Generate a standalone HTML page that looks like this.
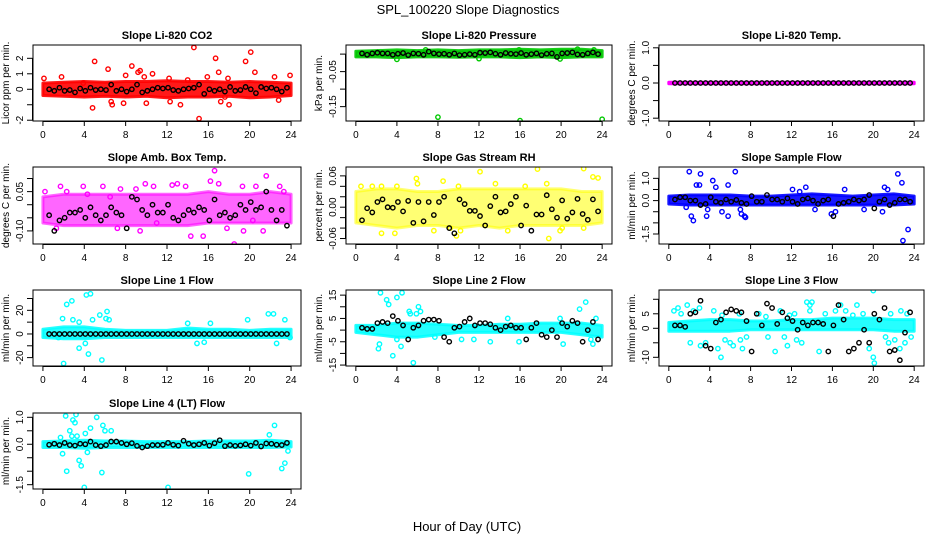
<!DOCTYPE html>
<html><head><meta charset="utf-8">
<style>
html,body{margin:0;padding:0;background:#fff;}
svg{display:block;font-family:"Liberation Sans",Arial,sans-serif;}
</style></head>
<body>
<svg id="chart" width="936" height="540" viewBox="0 0 936 540">
<text x="468" y="14" text-anchor="middle" font-size="13">SPL_100220  Slope Diagnostics</text>
<text x="467" y="531" text-anchor="middle" font-size="13">Hour of Day (UTC)</text>
</svg>
<script>
const hours=[0,2,4,6,8,10,12,14,16,18,20,22,24];
const xTicks=[0,4,8,12,16,20,24];
const blackX=[0.6,1.1,1.6,2.1,2.6,3.1,3.6,4.1,4.6,5.1,5.6,6.1,6.6,7.1,7.6,8.1,8.6,9.1,9.6,10.1,10.6,11.1,11.6,12.1,12.6,13.1,13.6,14.1,14.6,15.1,15.6,16.1,16.6,17.1,17.6,18.1,18.6,19.1,19.6,20.1,20.6,21.1,21.6,22.1,22.6,23.1,23.6];

const p1Lo=[-0.4,-0.45,-0.5,-0.45,-0.5,-0.45,-0.55,-0.5,-0.5,-0.45,-0.55,-0.5,-0.4];
const p1Hi=[0.4,0.45,0.5,0.45,0.5,0.5,0.55,0.5,0.5,0.45,0.5,0.45,0.4];
const p1Out=[[4.8,-1.2],[5.0,1.8],[6.3,1.3],[6.6,-0.8],[6.7,-1.0],[7.8,-0.9],[8.0,0.9],[8.6,1.5],[9.2,1.1],[9.4,1.2],[10.0,-0.9],[10.6,1.0],[1.8,0.8],[0.1,0.7],[12.2,0.7],[12.3,-0.8],[13.3,-1.0],[14.6,2.7],[15.1,-1.9],[15.9,0.8],[16.7,2.0],[17.0,1.1],[17.2,-0.8],[17.6,-0.5],[18.0,-1.0],[17.9,0.7],[19.6,1.8],[20.1,2.4],[20.5,1.1],[22.4,0.8],[22.8,-0.7],[23.9,0.9],[3.9,0.4],[14.0,0.6],[9.8,0.8]];
const p1Mean=[0,-0.1,0.1,-0.1,-0.05,-0.2,0.05,-0.1,0.1,-0.05,0,-0.05,0.3,-0.1,0,-0.15,0,0.3,-0.2,-0.1,0,0.1,0.05,0.1,-0.05,-0.1,0,0.05,0.1,0.3,-0.3,0,-0.1,0,-0.15,0.15,-0.1,-0.05,0.15,0,-0.25,0.15,0.05,0.1,0,-0.15,0.1];

const p2Lo=[-0.008,-0.008,-0.01,-0.008,-0.008,-0.009,-0.008,-0.008,-0.01,-0.008,-0.01,-0.008,-0.008];
const p2Hi=[0.008,0.01,0.012,0.01,0.012,0.01,0.012,0.012,0.014,0.012,0.014,0.014,0.01];
const p2Out=[[4.0,-0.015],[8.0,-0.18],[16.0,-0.19],[24.0,-0.186],[12.0,-0.013],[19.9,-0.014],[6.8,0.012],[15.9,0.012],[21.6,0.014],[23.2,0.012]];
const p2Mean=[0.002,-0.002,0.002,0.004,0.002,0.002,-0.002,0.001,0.003,-0.003,0.002,0.001,-0.002,0.007,0.002,0,0.001,-0.002,0.002,-0.003,-0.002,0,-0.002,0.004,0.003,0.005,0.001,-0.002,0.003,0.001,0,0.003,-0.002,0,0.002,-0.003,0.001,0.002,-0.008,0.002,0.003,0.005,-0.001,-0.002,0.002,0.005,0];

const p3Lo=[-0.02,-0.02,-0.02,-0.02,-0.02,-0.02,-0.02,-0.02,-0.02,-0.02,-0.02,-0.02,-0.02];
const p3Hi=[0.02,0.02,0.02,0.02,0.02,0.02,0.02,0.02,0.02,0.02,0.02,0.02,0.02];
const p3Out=[];
const p3Mean=[0,0,0,0,0,0,0,0,0,0,0,0,0,0,0,0,0,0,0,0,0,0,0,0,0,0,0,0,0,0,0,0,0,0,0,0,0,0,0,0,0,0,0,0,0,0,0];

const p4Lo=[-0.07,-0.08,-0.08,-0.08,-0.08,-0.08,-0.08,-0.08,-0.07,-0.07,-0.07,-0.07,-0.07];
const p4Hi=[0.03,0.04,0.04,0.04,0.04,0.04,0.04,0.04,0.05,0.04,0.04,0.05,0.04];
const p4Out=[[0.2,0.05],[1.7,0.07],[3.9,0.07],[5.8,0.07],[6.5,0.03],[7.2,-0.09],[9.0,0.06],[9.4,-0.1],[10.7,0.07],[12.5,0.075],[13.8,0.07],[14.3,-0.12],[15.1,-0.165],[15.5,-0.12],[16.2,0.09],[16.6,0.13],[17.0,0.08],[17.8,-0.09],[18.5,-0.15],[19.4,-0.1],[20.3,-0.06],[20.6,0.07],[21.3,-0.1],[21.6,0.11],[22.9,0.07],[13.0,0.08],[1.3,-0.09],[2.3,0.05],[4.3,0.04],[7.5,0.06],[11.0,-0.07],[9.9,0.08],[19.3,0.07],[23.3,0.05]];
const p4Mean=[-0.04,-0.1,-0.06,-0.05,-0.03,-0.03,-0.02,-0.05,-0.01,-0.04,-0.06,-0.04,-0.01,-0.03,-0.04,-0.09,0.03,0.02,-0.02,-0.04,0,-0.03,-0.03,0,-0.05,-0.06,-0.04,-0.02,-0.03,-0.01,-0.02,-0.06,0.02,-0.04,-0.03,-0.05,-0.04,0,-0.02,0.01,-0.02,-0.01,0.05,-0.02,-0.06,-0.02,-0.08];

const p5Lo=[-0.03,-0.035,-0.04,-0.035,-0.035,-0.04,-0.035,-0.04,-0.035,-0.035,-0.035,-0.035,-0.03];
const p5Hi=[0.03,0.035,0.035,0.03,0.03,0.035,0.035,0.035,0.035,0.035,0.035,0.03,0.03];
const p5Out=[[0.5,0.04],[2.5,0.04],[4.0,0.04],[5.9,0.055],[6.0,0.045],[8.5,0.05],[12.1,0.068],[13.6,0.045],[17.7,0.073],[18.6,0.045],[22.2,0.074],[23.1,0.058],[23.6,0.056],[2.5,-0.05],[3.8,-0.05],[9.8,-0.055],[10.2,-0.045],[12.6,-0.035],[14.8,-0.045],[18.8,-0.06],[19.9,-0.045],[20.1,-0.04],[22.2,-0.04],[7.6,-0.045],[16.5,0.04],[1.6,0.04],[9.2,-0.04],[10.0,0.04]];
const p5Mean=[-0.025,-0.002,-0.01,0.01,0.015,0,-0.001,0.01,-0.008,0.012,-0.03,0.01,-0.027,0.01,-0.015,0.01,0.02,-0.04,-0.05,0.015,0.006,-0.007,-0.007,-0.017,-0.035,0.002,0.02,-0.01,-0.008,0.006,0.02,-0.035,0.003,-0.045,-0.014,-0.014,0.023,-0.004,-0.02,0.013,-0.022,-0.01,0.016,-0.013,-0.024,0.015,-0.008];

const p6Lo=[-0.15,-0.2,-0.2,-0.2,-0.2,-0.2,-0.2,-0.2,-0.2,-0.2,-0.2,-0.2,-0.15];
const p6Hi=[0.2,0.25,0.25,0.25,0.2,0.2,0.25,0.3,0.25,0.2,0.25,0.3,0.2];
const p6Out=[[2.0,1.3],[3.1,1.2],[6.5,1.3],[4.3,0.9],[3.0,0.7],[2.7,0.7],[5.8,0.7],[4.6,0.6],[2.2,-0.7],[2.4,-0.9],[3.7,-0.7],[3.8,-0.4],[5.2,-0.5],[5.8,-0.7],[7.1,-0.6],[7.4,-0.7],[7.5,-0.75],[7.0,-0.4],[15.9,-0.6],[16.3,-0.5],[14.3,-0.4],[13.4,0.6],[12.1,0.5],[17.2,0.5],[20.9,-0.5],[21.1,0.6],[21.4,0.5],[22.4,1.2],[22.8,0.8],[23.4,-1.3],[22.9,-1.8],[19.1,-0.4],[12.8,0.4],[1.7,-0.3]];
const p6Mean=[0.05,0.15,0.15,0,0,-0.2,-0.15,0.15,-0.05,-0.1,0.05,-0.05,0.03,-0.1,-0.15,0.2,-0.05,-0.05,0.25,0.05,0.05,-0.05,0.1,-0.05,-0.15,0.05,0.1,0,-0.15,0,0.05,-0.7,-0.15,-0.1,-0.05,0.05,0,0.05,0.25,-0.35,-0.05,0.05,-0.2,-0.1,0.05,0.05,-0.05];

const p7Lo=[-3,-4,-4,-3,-3,-3,-3,-3,-3,-3,-3,-3,-3];
const p7Hi=[4,6,6,4,3,3,3,5,4,4,3,4,4];
const p7Out=[[2.0,-25],[2.3,25],[2.8,28],[4.2,33],[4.6,34],[3.5,-12],[4.1,-8],[4.4,-17],[5.7,-22],[6.2,19],[6.1,13],[5.5,16],[4.8,12],[3.5,10],[2.9,12],[1.9,13],[1.5,-3],[6.4,12],[14.9,-8],[15.6,-7],[19.8,12],[21.8,17],[22.3,17],[22.6,-8],[23.4,12],[23.9,-3],[16.2,9],[14,9]];
const p7Mean=[0,0,0,0,0,0,0,0,0,0,0,0,0,0,0,0,0,0,0,0,0,0,0,0,0,0,0,0,0,0,0,0,0,0,0,0,0,0,0,0,0,0,0,0,0,0,0];

const p8Lo=[-1,-2,-3,-3,-2,-1,-1,-1,-1,-1,-1,-2,-3];
const p8Hi=[2,2,3,3,2.5,2,2,2.5,2.5,3,3,3,2];
const p8Out=[[2.4,16],[3.0,13],[4.0,14],[4.5,16],[3.6,-11],[2.2,-8],[2.3,-6],[5.6,-14],[5.2,8],[5.3,7],[5.9,7],[6.3,8],[6.1,10],[7.7,-3],[4.4,-7],[4.0,-4],[14.8,5],[15.9,-5],[20.2,-6],[19.9,5],[21.8,9],[22.4,12],[23.1,-6],[23.4,5],[22.9,-4],[3.2,11],[10.3,-4],[11.5,-4],[13.1,-5]];
const p8Mean=[1,0.5,0.5,3,3.5,3,6,4,2,-4,1,2,4,4.5,4.5,4,-3,-5,1,1.5,3.5,5,2,3,3,2.5,1,0,1.5,2,1,1,-4,1,3,-2,-3,0,-3,3,1.5,4,3,-5,0,3.5,-4];

const p9Lo=[-1,-1,-1,-1,-0.5,-0.5,-0.5,-0.5,-0.5,-0.5,-0.5,-1,-1];
const p9Hi=[2,2.5,3,3,2.5,2.5,3,3,3.5,3.5,3.5,3,3];
const p9Out=[[0.5,6],[0.9,7],[1.8,8],[2.1,-5],[3.1,-6],[3.6,-5],[4.8,-7],[5.1,-10],[5.5,-4],[6.0,-5],[6.3,-6],[7.0,-4],[7.2,-7],[9.7,-3],[10.4,-8],[11.3,-3],[11.6,-6],[12.5,-4],[13.0,-5],[13.5,9],[13.8,8],[14.0,9],[14.7,-8],[16.8,8],[18.4,8],[19.6,-7],[20.0,-10],[20.1,-12],[20.0,13],[21.2,-3],[21.5,-5],[22.1,-4],[22.6,-7],[23.1,-5],[23.7,-3],[22.7,6],[13.8,6],[7.6,-3],[3,7],[1.2,5],[2.4,6],[4.4,6],[6.9,5],[8.8,5],[10.9,6],[12.3,5],[15.3,5],[16.3,6],[17.3,6],[19.0,5],[21.7,5],[23.3,5],[5.2,4.5],[9.5,4],[18.0,4.5],[11.8,4.5]];
const p9Mean=[1,1,0.5,5,5.5,9.5,-6,-7,2,3,5.5,6.5,6,5.5,2.5,-8,5,1,8.5,7,1.5,5.5,3.5,2.5,-0.5,2,1,2,2,1.5,-8,1,8,3,-8,-7,-5,-0.5,-5,5,3,7,-8,-7.5,-11,-1.5,5.5];

const p10Lo=[-0.12,-0.12,-0.15,-0.12,-0.12,-0.12,-0.12,-0.12,-0.12,-0.12,-0.12,-0.12,-0.1];
const p10Hi=[0.1,0.12,0.15,0.12,0.12,0.1,0.1,0.1,0.12,0.12,0.12,0.15,0.1];
const p10Out=[[2.2,1.05],[3.2,1.1],[5.2,1.0],[2.9,0.9],[3.1,0.8],[2.6,0.5],[2.8,0.3],[3.3,0.3],[4.6,0.6],[5.8,0.7],[6.0,0.5],[6.6,0.5],[1.7,0.25],[1.9,-0.35],[2.3,-1.0],[3.5,-0.6],[3.7,-0.8],[4.0,-1.6],[5.7,-1.05],[4.1,0.4],[4.3,-0.3],[12.1,-1.6],[19.9,-1.1],[22.4,0.7],[23.1,-0.9],[23.4,-0.7],[23.7,-0.25],[21.9,0.35]];
const p10Mean=[-0.02,0.02,-0.03,0.05,-0.03,-0.05,0.02,0,0.1,-0.03,-0.07,-0.03,0.1,0.1,0.05,0,0.04,-0.06,-0.12,-0.07,-0.03,-0.03,-0.02,0.05,-0.02,-0.05,0.13,0.02,-0.03,0,0.05,-0.05,0.04,0.15,-0.07,-0.03,-0.06,-0.04,0,-0.05,0.05,-0.08,0.03,0.02,-0.02,-0.03,0.05];

const colsX=[[33,301],[346,612],[659,924]];
const rowsY=[[45,121],[167,244],[290,366],[413,489]];
const panels=[
 {t:"Slope Li-820 CO2",yl:"Licor ppm per min.",c:"#ff0000",r:0,k:0,dom:[-2.05,2.86],ticks:[-2,-1,0,1,2],labs:["-2","","0","1","2"],lo:p1Lo,hi:p1Hi,out:p1Out,mean:p1Mean,op:0.9},
 {t:"Slope Li-820 Pressure",yl:"kPa per min.",c:"#00c800",r:0,k:1,dom:[-0.191,0.026],ticks:[-0.15,-0.1,-0.05,0],labs:["-0.15","","-0.05",""],lo:p2Lo,hi:p2Hi,out:p2Out,mean:p2Mean,op:0.9},
 {t:"Slope Li-820 Temp.",yl:"degrees C per min.",c:"#ff00ff",r:0,k:2,dom:[-1.08,1.08],ticks:[-1,-0.5,0,0.5,1],labs:["-1.0","","0.0","","1.0"],lo:p3Lo,hi:p3Hi,out:p3Out,mean:p3Mean,op:1},
 {t:"Slope Amb. Box Temp.",yl:"degrees C per min.",c:"#ff00ff",r:1,k:0,dom:[-0.15,0.144],ticks:[-0.1,-0.05,0,0.05,0.1],labs:["-0.10","","","0.05",""],lo:p4Lo,hi:p4Hi,out:p4Out,mean:p4Mean,op:0.6},
 {t:"Slope Gas Stream RH",yl:"percent per min.",c:"#ffff00",r:1,k:1,dom:[-0.0705,0.077],ticks:[-0.06,-0.04,-0.02,0,0.02,0.04,0.06],labs:["-0.06","","","0.00","","","0.06"],lo:p5Lo,hi:p5Hi,out:p5Out,mean:p5Mean,op:0.55},
 {t:"Slope Sample Flow",yl:"ml/min per min.",c:"#0000ff",r:1,k:2,dom:[-1.95,1.51],ticks:[-1.5,-1,-0.5,0,0.5,1],labs:["-1.5","","","0.0","","1.0"],lo:p6Lo,hi:p6Hi,out:p6Out,mean:p6Mean,op:0.9},
 {t:"Slope Line 1 Flow",yl:"ml/min per min.",c:"#00ffff",r:2,k:0,dom:[-27.1,37.2],ticks:[-20,-10,0,10,20,30],labs:["-20","","0","","20",""],lo:p7Lo,hi:p7Hi,out:p7Out,mean:p7Mean,op:0.85},
 {t:"Slope Line 2 Flow",yl:"ml/min per min.",c:"#00ffff",r:2,k:1,dom:[-15.4,17.2],ticks:[-15,-10,-5,0,5,10,15],labs:["-15","","-5","","5","","15"],lo:p8Lo,hi:p8Hi,out:p8Out,mean:p8Mean,op:0.85},
 {t:"Slope Line 3 Flow",yl:"ml/min per min.",c:"#00ffff",r:2,k:2,dom:[-13,13.2],ticks:[-10,-5,0,5,10],labs:["-10","","0","5",""],lo:p9Lo,hi:p9Hi,out:p9Out,mean:p9Mean,op:0.85},
 {t:"Slope Line 4 (LT) Flow",yl:"ml/min per min.",c:"#00ffff",r:3,k:0,dom:[-1.66,1.16],ticks:[-1.5,-1,-0.5,0,0.5,1],labs:["-1.5","","","0.0","","1.0"],lo:p10Lo,hi:p10Hi,out:p10Out,mean:p10Mean,op:0.85}
];
const NS="http://www.w3.org/2000/svg";
const svg=document.getElementById('chart');
function mk(tag,attrs,parent){const e=document.createElementNS(NS,tag);for(const a in attrs)e.setAttribute(a,attrs[a]);(parent||svg).appendChild(e);return e;}
panels.forEach((p,i)=>{
  const [x0,x1]=colsX[p.k],[y0,y1]=rowsY[p.r];
  const sx=v=>x0+(v+0.96)/25.92*(x1-x0);
  const sy=v=>y1-(v-p.dom[0])/(p.dom[1]-p.dom[0])*(y1-y0);
  const g=mk('g',{});
  
  
  const clip=mk('clipPath',{id:'cl'+i},g);mk('rect',{x:x0,y:y0,width:x1-x0,height:y1-y0},clip);
  const data=mk('g',{'clip-path':'url(#cl'+i+')'},g);
  
  
  let pts=hours.map((h,j)=>sx(h)+','+sy(p.hi[j]));
  pts=pts.concat(hours.slice().reverse().map((h,j)=>sx(h)+','+sy(p.lo[hours.length-1-j])));
  const band=mk('polygon',{points:pts.join(' '),fill:p.c,'fill-opacity':p.op,stroke:p.c,'stroke-width':3,'stroke-linejoin':'round','stroke-opacity':p.op},data);
  
  
  p.out.forEach(d=>{
    const c=mk('circle',{cx:sx(d[0]),cy:sy(d[1]),r:2.2,fill:'none',stroke:p.c,'stroke-width':1.4},data);
    
    
  });
  blackX.forEach((bx,j)=>{
    const c=mk('circle',{cx:sx(bx),cy:sy(p.mean[j]),r:2.2,fill:'none',stroke:'#000','stroke-width':1.4},data);
    
    
  });
  mk('rect',{x:x0,y:y0,width:x1-x0,height:y1-y0,fill:'none',stroke:'#000','stroke-width':1},g);
  const tt=mk('text',{x:(x0+x1)/2,y:y0-6,'text-anchor':'middle','font-size':11,'font-weight':'bold'},g);
  tt.textContent=p.t;
  
  
  mk('line',{x1:sx(0),x2:sx(24),y1:y1+0.5,y2:y1+0.5,stroke:'#000'},g);
  xTicks.forEach(v=>{
    mk('line',{x1:sx(v),x2:sx(v),y1:y1,y2:y1+5,stroke:'#000'},g);
    const t=mk('text',{x:sx(v),y:y1+17,'text-anchor':'middle','font-size':10},g);
    t.textContent=v;
    
    
  });
  mk('line',{x1:x0-0.5,x2:x0-0.5,y1:sy(p.ticks[0]),y2:sy(p.ticks[p.ticks.length-1]),stroke:'#000'},g);
  p.ticks.forEach((v,j)=>{
    const yy=sy(v);
    mk('line',{x1:x0-6,x2:x0,y1:yy,y2:yy,stroke:'#000'},g);
    if(p.labs[j]){
      const t=mk('text',{x:x0-10,y:yy,'text-anchor':'middle','font-size':10,transform:'rotate(-90 '+(x0-10)+' '+yy+')'},g);
      t.textContent=p.labs[j];
      
      
    }
  });
  const yc=(y0+y1)/2, xl=x0-24;
  const yt=mk('text',{x:xl,y:yc,'text-anchor':'middle','font-size':10,transform:'rotate(-90 '+xl+' '+yc+')'},g);
  yt.textContent=p.yl;
  
  
});
</script>
</body></html>
